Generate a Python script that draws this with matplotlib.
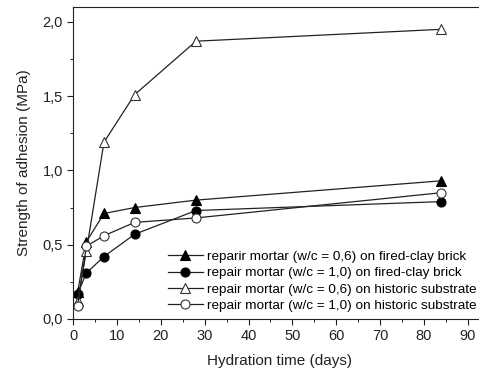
import matplotlib
matplotlib.use("Agg")
import matplotlib.pyplot as plt
from matplotlib.ticker import FuncFormatter, MultipleLocator

plt.rcParams['font.family'] = ['Liberation Sans', 'DejaVu Sans']

days = [1, 3, 7, 14, 28, 84]
brick_06 = [0.18, 0.52, 0.71, 0.75, 0.80, 0.93]
brick_10 = [0.17, 0.31, 0.42, 0.57, 0.73, 0.79]
hist_06 = [0.12, 0.46, 1.19, 1.51, 1.87, 1.95]
hist_10 = [0.09, 0.49, 0.56, 0.65, 0.68, 0.85]

labels = [
    "reparir mortar (w/c = 0,6) on fired-clay brick",
    "repair mortar (w/c = 1,0) on fired-clay brick",
    "repair mortar (w/c = 0,6) on historic substrate",
    "repair mortar (w/c = 1,0) on historic substrate",
]

fig = plt.figure(figsize=(4.79, 3.70), dpi=100)
ax = fig.add_axes([0.153, 0.138, 0.86, 0.843])

line_kw = dict(color='#222222', linewidth=0.9, markersize=6.5, markeredgewidth=0.8)
ax.plot(days, brick_06, marker='^', markerfacecolor='black', markeredgecolor='black', label=labels[0], **line_kw)
ax.plot(days, brick_10, marker='o', markerfacecolor='black', markeredgecolor='black', label=labels[1], **line_kw)
ax.plot(days, hist_06, marker='^', markerfacecolor='white', markeredgecolor='#333333', label=labels[2], **line_kw)
ax.plot(days, hist_10, marker='o', markerfacecolor='white', markeredgecolor='#333333', label=labels[3], **line_kw)

ax.set_xlim(0, 94)
ax.set_ylim(0, 2.1)
ax.xaxis.set_major_locator(MultipleLocator(10))
ax.xaxis.set_minor_locator(MultipleLocator(5))
ax.yaxis.set_major_locator(MultipleLocator(0.5))
ax.yaxis.set_minor_locator(MultipleLocator(0.25))
ax.yaxis.set_major_formatter(FuncFormatter(lambda v, p: f"{v:.1f}".replace('.', ',')))
ax.tick_params(which='major', direction='out', length=4, labelsize=10.5, colors='#222222')
ax.tick_params(which='minor', direction='out', length=2.5)

ax.set_xlabel("Hydration time (days)", fontsize=11, color='#222222', labelpad=8)
ax.set_ylabel("Strength of adhesion (MPa)", fontsize=11, color='#222222', labelpad=8)

for s in ax.spines.values():
    s.set_color('#222222')

ax.legend(loc='lower right', bbox_to_anchor=(0.995, 0.0), frameon=False, fontsize=9.7,
          handlelength=2.6, handletextpad=0.3, labelspacing=0.3, borderaxespad=0.3,
          borderpad=0.2)

fig.savefig("out.png", dpi=100)
